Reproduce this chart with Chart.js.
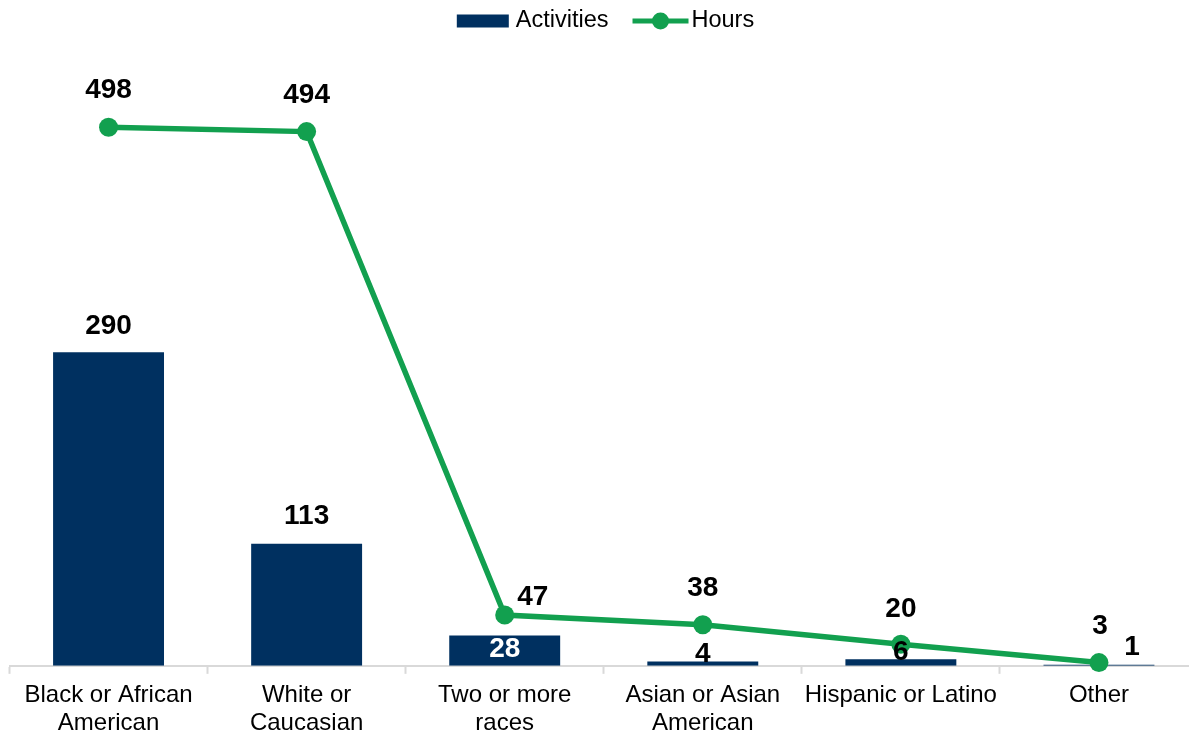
<!DOCTYPE html>
<html>
<head>
<meta charset="utf-8">
<title>Activities and Hours by Race</title>
<script src="https://cdn.jsdelivr.net/npm/chart.js@4.4.1/dist/chart.umd.min.js"></script>
<style>
  html, body { margin: 0; padding: 0; background: #fff; overflow: hidden; }
  #wrap { width: 1211px; height: 735px; }
</style>
</head>
<body>
<div id="wrap"><canvas id="comboChart"></canvas></div>
<script>
// categories (multi-line tick labels) and the two series
const categories = [
  ["Black or African", "American"],
  ["White or", "Caucasian"],
  ["Two or more", "races"],
  ["Asian or Asian", "American"],
  "Hispanic or Latino",
  "Other",
];
const activities = [290, 113, 28, 4, 6, 1];
const hours = [498, 494, 47, 38, 20, 3];
const seriesNames = ["Activities", "Hours"];

const NAVY = "#003060";
const GREEN = "#12a04f";
const FONT = "'Liberation Sans', Arial, Helvetica, sans-serif";

// where each value label sits: offset from the bar top / the point centre
const barLabelPos = [
  { dx: 0, dy: -26, color: "#000" },
  { dx: 0, dy: -27, color: "#000" },
  { dx: 0, dy: 14, color: "#fff" },
  { dx: 0, dy: -7, color: "#000" },
  { dx: 0, dy: -7, color: "#000" },
  { dx: 33, dy: -17, color: "#000" },
];
const lineLabelPos = [
  { dx: 0, dy: -37 },
  { dx: 0, dy: -36 },
  { dx: 28, dy: -18 },
  { dx: 0, dy: -36 },
  { dx: 0, dy: -35 },
  { dx: 1, dy: -36 },
];

// legend drawn by hand: flat box for the bars, line with a dot for hours
const topLegend = {
  id: "topLegend",
  afterDraw(chart) {
    const ctx = chart.ctx;
    ctx.save();
    ctx.font = "23.5px " + FONT;
    ctx.textBaseline = "middle";
    ctx.textAlign = "left";
    const w0 = ctx.measureText(seriesNames[0]).width;
    const w1 = ctx.measureText(seriesNames[1]).width;
    const total = 52 + 7 + w0 + 24 + 56 + 3 + w1;
    let x = chart.width / 2 - total / 2;
    const y = 21;

    ctx.fillStyle = NAVY;
    ctx.fillRect(x, y - 6.5, 52, 13);
    x += 52 + 7;
    ctx.fillStyle = "#000";
    ctx.fillText(seriesNames[0], x, y);
    x += w0 + 24;

    ctx.strokeStyle = GREEN;
    ctx.lineWidth = 5;
    ctx.beginPath();
    ctx.moveTo(x, y);
    ctx.lineTo(x + 56, y);
    ctx.stroke();
    ctx.fillStyle = GREEN;
    ctx.beginPath();
    ctx.arc(x + 28, y, 8.5, 0, Math.PI * 2);
    ctx.fill();
    x += 56 + 3;
    ctx.fillStyle = "#000";
    ctx.fillText(seriesNames[1], x, y);
    ctx.restore();
  },
};

const valueLabels = {
  id: "valueLabels",
  afterDatasetsDraw(chart) {
    const ctx = chart.ctx;
    ctx.save();
    ctx.font = "bold 28px " + FONT;
    ctx.textAlign = "center";
    ctx.textBaseline = "middle";

    chart.getDatasetMeta(1).data.forEach((pt, i) => {
      const p = lineLabelPos[i];
      ctx.fillStyle = "#000";
      ctx.fillText(String(hours[i]), pt.x + p.dx, pt.y + p.dy);
    });

    chart.getDatasetMeta(0).data.forEach((bar, i) => {
      const p = barLabelPos[i];
      ctx.fillStyle = p.color;
      ctx.fillText(String(activities[i]), bar.x + p.dx, bar.y + p.dy);
    });
    ctx.restore();
  },
};

const ctx = document.getElementById("comboChart").getContext("2d");
new Chart(ctx, {
  data: {
    labels: categories,
    datasets: [
      {
        type: "bar",
        label: seriesNames[0],
        data: activities,
        backgroundColor: NAVY,
        barPercentage: 0.56,
        categoryPercentage: 1,
        order: 2,
      },
      {
        type: "line",
        label: seriesNames[1],
        data: hours,
        borderColor: GREEN,
        backgroundColor: GREEN,
        borderWidth: 5.5,
        tension: 0,
        pointRadius: 9.5,
        pointHoverRadius: 9.5,
        pointBorderWidth: 0,
        pointBackgroundColor: GREEN,
        clip: false,
        order: 1,
      },
    ],
  },
  options: {
    responsive: true,
    maintainAspectRatio: false,
    animation: false,
    layout: { padding: { left: 8, right: 0, top: 44, bottom: -9 } },
    plugins: {
      tooltip: { enabled: false },
      legend: { display: false },
    },
    scales: {
      x: {
        offset: true,
        grid: {
          offset: true,
          drawOnChartArea: false,
          drawTicks: true,
          tickLength: 8,
          tickWidth: 2,
          tickColor: "#d9d9d9",
        },
        border: { display: true, color: "#d9d9d9", width: 2 },
        ticks: {
          color: "#000",
          padding: 7,
          maxRotation: 0,
          autoSkip: false,
          font: { family: FONT, size: 24, lineHeight: 1.17 },
        },
      },
      y: {
        position: "right",
        min: 0,
        max: 575,
        grid: { display: false },
        border: { display: false },
        ticks: { display: false },
        afterFit: (scale) => {
          scale.width = 13;
        },
      },
    },
  },
  plugins: [valueLabels, topLegend],
});
</script>
</body>
</html>
